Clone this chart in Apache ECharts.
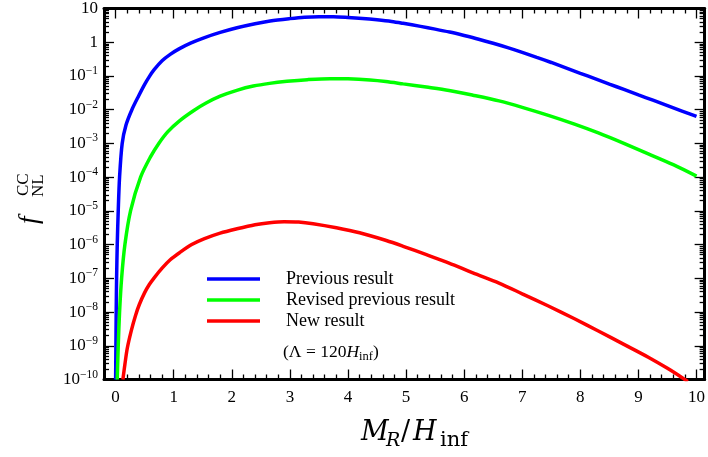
<!DOCTYPE html>
<html>
<head>
<meta charset="utf-8">
<script src="https://cdn.jsdelivr.net/npm/echarts@6/dist/echarts.min.js"></script>
<style>
html,body{margin:0;padding:0;background:#fff;}
#chart{width:708px;height:457px;}
</style>
</head>
<body>
<div id="chart"></div>
<script>
// ---- data ----
const prevX = [0.0, 0.005, 0.01, 0.017, 0.028, 0.045, 0.068, 0.113, 0.18, 0.28, 0.4, 0.5, 0.58, 0.66, 0.8, 0.94, 1.1, 1.3, 1.52, 1.8, 2.09, 2.4, 2.66, 3.0, 3.25, 3.5, 3.75, 4.0, 4.25, 4.5, 4.75, 4.95, 5.25, 5.5, 5.75, 6.0, 6.25, 6.5, 6.75, 7.0, 7.25, 7.5, 7.75, 8.0, 8.25, 8.5, 8.75, 9.0, 9.25, 9.5, 9.75, 10.0];
const prevY = [1e-10, 1e-9, 1e-8, 1e-7, 1e-6, 1e-5, 1e-4, 1e-3, 3.55e-3, 1e-2, 2.63e-2, 5.62e-2, 9.55e-2, 0.151, 0.282, 0.437, 0.646, 0.955, 1.35, 1.95, 2.69, 3.55, 4.27, 5.01, 5.5, 5.69, 5.69, 5.43, 5.07, 4.62, 4.12, 3.63, 2.95, 2.45, 2.0, 1.58, 1.23, 0.933, 0.692, 0.501, 0.355, 0.251, 0.174, 0.120, 0.0832, 0.0575, 0.0398, 0.0275, 0.0191, 0.0132, 9.12e-3, 6.31e-3];

const revX = [0.028, 0.045, 0.068, 0.103, 0.16, 0.257, 0.43, 0.6, 0.743, 0.9, 1.1, 1.34, 1.55, 1.8, 2.1, 2.37, 2.65, 2.95, 3.3, 3.69, 4.0, 4.38, 4.65, 4.95, 5.35, 5.74, 6.15, 6.6, 7.0, 7.45, 7.9, 8.31, 8.75, 9.17, 9.6, 10.0];
const revY = [1e-10, 1e-9, 1e-8, 1e-7, 1e-6, 1e-5, 1e-4, 3.98e-4, 1e-3, 2.24e-3, 4.68e-3, 9.33e-3, 1.55e-2, 2.51e-2, 3.8e-2, 5.01e-2, 6.03e-2, 6.92e-2, 7.76e-2, 8.32e-2, 8.22e-2, 7.59e-2, 6.84e-2, 5.82e-2, 4.68e-2, 3.72e-2, 2.69e-2, 1.82e-2, 1.17e-2, 6.76e-3, 3.72e-3, 2.04e-3, 1.0e-3, 4.9e-4, 2.34e-4, 1.07e-4];

const newX = [0.125, 0.16, 0.2, 0.27, 0.343, 0.41, 0.5, 0.58, 0.657, 0.8, 0.94, 1.1, 1.31, 1.52, 1.8, 2.09, 2.4, 2.65, 2.9, 3.15, 3.4, 3.8, 4.2, 4.66, 4.95, 5.35, 5.74, 6.15, 6.6, 7.0, 7.45, 7.9, 8.31, 8.75, 9.17, 9.5, 9.74, 9.85];
const newY = [1e-10, 2.82e-10, 8.32e-10, 2.82e-9, 7.94e-9, 1.7e-8, 3.76e-8, 6.53e-8, 1e-7, 2e-7, 3.55e-7, 5.75e-7, 1e-6, 1.48e-6, 2.19e-6, 2.95e-6, 3.89e-6, 4.47e-6, 4.79e-6, 4.68e-6, 4.17e-6, 3.16e-6, 2.24e-6, 1.32e-6, 8.91e-7, 5.01e-7, 2.82e-7, 1.45e-7, 7.24e-8, 3.47e-8, 1.51e-8, 6.31e-9, 2.75e-9, 1.1e-9, 4.57e-10, 2.14e-10, 1.17e-10, 8.7e-11];

const seriesNames = ['Previous result', 'Revised previous result', 'New result'];
const seriesColors = ['#0000ff', '#00ff00', '#ff0000'];
const xTicks = [0, 1, 2, 3, 4, 5, 6, 7, 8, 9, 10];
const xTickLabels = ['0', '1', '2', '3', '4', '5', '6', '7', '8', '9', '10'];
const yTicks = [1e-10, 1e-9, 1e-8, 1e-7, 1e-6, 1e-5, 1e-4, 1e-3, 1e-2, 1e-1, 1, 10];
const yTickExps = ['−10', '−9', '−8', '−7', '−6', '−5', '−4', '−3', '−2', '−1', '', ''];
const yTickBases = ['10', '10', '10', '10', '10', '10', '10', '10', '10', '10', '1', '10'];

// minor tick positions
const xMinor = [];
for (let i = 1; i < 50; i++) { if (i % 5 !== 0) xMinor.push(i / 5); }
const yMinor = [];
for (let e = 0; e < yTicks.length - 1; e++) {
  for (let k = 2; k <= 9; k++) yMinor.push(k * yTicks[e]);
}

const zip = (xs, ys) => xs.map((x, i) => [x, ys[i]]);

const FONT = 'Liberation Serif';
const MFONT = 'DejaVu Serif';
const X_MIN = -0.2, X_MAX = 10.14;

function xAxisDef(pos, major) {
  return {
    type: 'value', position: pos, min: X_MIN, max: X_MAX,
    axisLine: { show: major, onZero: false, lineStyle: { color: '#000', width: 3 } },
    axisTick: { show: true, inside: true, length: major ? 10 : 5, customValues: major ? xTicks : xMinor,
      lineStyle: { color: '#000', width: 1.3 } },
    axisLabel: { show: major && pos === 'bottom', customValues: xTicks, margin: 10,
      fontFamily: FONT, fontSize: 17, color: '#000',
      formatter: (v) => xTickLabels[xTicks.indexOf(v)] },
    splitLine: { show: false }
  };
}
function yAxisDef(pos, major) {
  return {
    type: 'log', logBase: 10, position: pos, min: 1e-10, max: 10,
    axisLine: { show: major, onZero: false, lineStyle: { color: '#000', width: 3 } },
    axisTick: { show: true, inside: true, length: major ? 10 : 5, customValues: major ? yTicks : yMinor,
      lineStyle: { color: '#000', width: 1.3 } },
    axisLabel: { show: major && pos === 'left', customValues: yTicks, margin: 6,
      fontFamily: FONT, color: '#000',
      formatter: function (v) {
        let idx = 0, best = Infinity;
        for (let i = 0; i < yTicks.length; i++) {
          const d = Math.abs(Math.log10(v) - Math.log10(yTicks[i]));
          if (d < best) { best = d; idx = i; }
        }
        const e = yTickExps[idx];
        return e ? '{b|' + yTickBases[idx] + '}{s|' + e + '}' : '{b|' + yTickBases[idx] + '}';
      },
      rich: {
        b: { fontFamily: FONT, fontSize: 17, color: '#000', lineHeight: 22 },
        s: { fontFamily: FONT, fontSize: 11.5, color: '#000', lineHeight: 13, verticalAlign: 'top' }
      }
    },
    splitLine: { show: false }
  };
}

function lineSeries(i, xs, ys) {
  return { name: seriesNames[i], type: 'line', xAxisIndex: 0, yAxisIndex: 0, data: zip(xs, ys),
    showSymbol: false, symbol: 'none', smooth: 0.3, clip: true,
    lineStyle: { color: seriesColors[i], width: 3.5 }, itemStyle: { color: seriesColors[i] } };
}

const chart = echarts.init(document.getElementById('chart'), null, { renderer: 'canvas' });
chart.setOption({
  backgroundColor: '#fff',
  animation: false,
  grid: { left: 104, right: 1.5, top: 5.3, bottom: 77.5, containLabel: false },
  xAxis: [xAxisDef('bottom', true), xAxisDef('bottom', false), xAxisDef('top', true), xAxisDef('top', false)],
  yAxis: [yAxisDef('left', true), yAxisDef('left', false), yAxisDef('right', true), yAxisDef('right', false)],
  legend: {
    orient: 'vertical', left: 202, top: 265,
    itemWidth: 53, itemHeight: 14, itemGap: 3,
    icon: 'path://M0 0H53V3.5H0Z',
    data: seriesNames,
    textStyle: { fontFamily: FONT, fontSize: 18, color: '#000', lineHeight: 14, padding: [0, 0, 0, 21] }
  },
  series: [
    lineSeries(0, prevX, prevY),
    lineSeries(1, revX, revY),
    lineSeries(2, newX, newY)
  ],
  graphic: [
    // y-axis title f_NL^CC (rotated)
    { type: 'group', x: 31, y: 197, rotation: Math.PI / 2, children: [
      { type: 'text', x: -27, y: -1, style: { text: 'f', fontFamily: FONT, fontStyle: 'italic', fontSize: 27, fill: '#000', align: 'left', verticalAlign: 'middle' } },
      { type: 'text', x: 1, y: -7, style: { text: 'CC', fontFamily: FONT, fontSize: 17, fill: '#000', align: 'left', verticalAlign: 'middle' } },
      { type: 'text', x: 0, y: 7.5, style: { text: 'NL', fontFamily: FONT, fontSize: 17, fill: '#000', align: 'left', verticalAlign: 'middle' } }
    ]},
    // x-axis title M_R / H_inf
    { type: 'text', x: 361, y: 433, style: { text: 'M', fontFamily: MFONT, fontStyle: 'italic', fontSize: 27, fill: '#000', align: 'left', verticalAlign: 'middle' } },
    { type: 'text', x: 386, y: 441, style: { text: 'R', fontFamily: MFONT, fontStyle: 'italic', fontSize: 19, fill: '#000', align: 'left', verticalAlign: 'middle' } },
    { type: 'text', x: 401, y: 433, style: { text: '/', fontFamily: MFONT, fontSize: 27, fill: '#000', align: 'left', verticalAlign: 'middle' } },
    { type: 'text', x: 413, y: 433, style: { text: 'H', fontFamily: MFONT, fontStyle: 'italic', fontSize: 27, fill: '#000', align: 'left', verticalAlign: 'middle' } },
    { type: 'text', x: 440, y: 441, style: { text: 'inf', fontFamily: MFONT, fontSize: 21, fill: '#000', align: 'left', verticalAlign: 'middle' } },
    // annotation
    { type: 'text', x: 283, y: 352, style: {
      text: '{n|(Λ = 120}{i|H}{s|inf}{n|)}', align: 'left', verticalAlign: 'middle',
      rich: {
        n: { fontFamily: FONT, fontSize: 17.5, fill: '#000', lineHeight: 22 },
        i: { fontFamily: FONT, fontStyle: 'italic', fontSize: 17.5, fill: '#000', lineHeight: 22 },
        s: { fontFamily: FONT, fontSize: 12.5, fill: '#000', lineHeight: 14, verticalAlign: 'bottom' }
      }
    } }
  ]
});
</script>
</body>
</html>
